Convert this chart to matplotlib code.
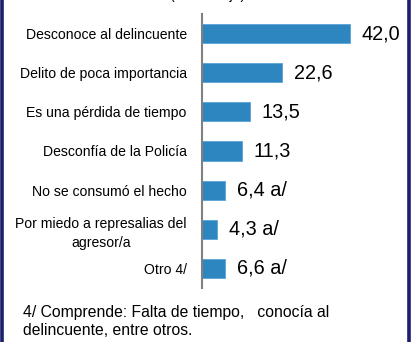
import matplotlib.pyplot as plt
from matplotlib.lines import Line2D

# Motivos por los que no se denuncia (porcentaje)
motivos = [
    'Desconoce al delincuente',
    'Delito de poca importancia',
    'Es una pérdida de tiempo',
    'Desconfía de la Policía',
    'No se consumó el hecho',
    'Por miedo a represalias del\nagresor/a',
    'Otro 4/',
]
valores = [42.0, 22.6, 13.5, 11.3, 6.4, 4.3, 6.6]
notas = ['', '', '', '', ' a/', ' a/', ' a/']

plt.rcParams['font.family'] = ['Liberation Sans', 'DejaVu Sans']

fig = plt.figure(figsize=(4.13, 3.42), dpi=100)
ax = fig.add_axes([202 / 413, 54 / 342, 176 / 413, 274 / 342])

pos = list(range(len(motivos)))
ax.barh(pos, valores, height=0.49, color='#2e86c1', edgecolor='#5aa3d6', linewidth=0.6)

# etiquetas de valor con coma decimal
for i, v in enumerate(valores):
    txt = f'{v:.1f}'.replace('.', ',') + notas[i]
    ax.annotate(txt, (v, i), xytext=(12, 0), textcoords='offset pixels',
                ha='left', va='center', fontsize=14.3, color='black')

ax.set_xlim(0, 50)
ax.set_ylim(6.5, -0.5)
ax.set_yticks(pos)
ax.set_yticklabels(motivos, fontsize=10.1, multialignment='center', linespacing=1.45)
ax.tick_params(axis='y', length=0, pad=11)
ax.set_xticks([])

for s in ['top', 'right', 'bottom']:
    ax.spines[s].set_visible(False)
ax.spines['left'].set_color('#808080')
ax.spines['left'].set_linewidth(1.5)

# título (queda recortado en el borde superior)
fig.text(207 / 413, 1 + 0.5 / 342, '(Porcentaje)', ha='center', va='baseline', fontsize=10)

# nota al pie
fig.text(23 / 413, 1 - 317 / 342, '4/ Comprende: Falta de tiempo,   conocía al', ha='left',
         va='baseline', fontsize=11.3)
fig.text(23 / 413, 1 - 335 / 342, 'delincuente, entre otros.', ha='left',
         va='baseline', fontsize=11.3)

# marco lateral
fig.add_artist(Line2D([1.5 / 413, 1.5 / 413], [0, 1], color='#1c1f6b', linewidth=2.6))
fig.add_artist(Line2D([409 / 413, 409 / 413], [0, 1], color='#1c1f6b', linewidth=2.6))

fig.savefig('out.png', dpi=100)
